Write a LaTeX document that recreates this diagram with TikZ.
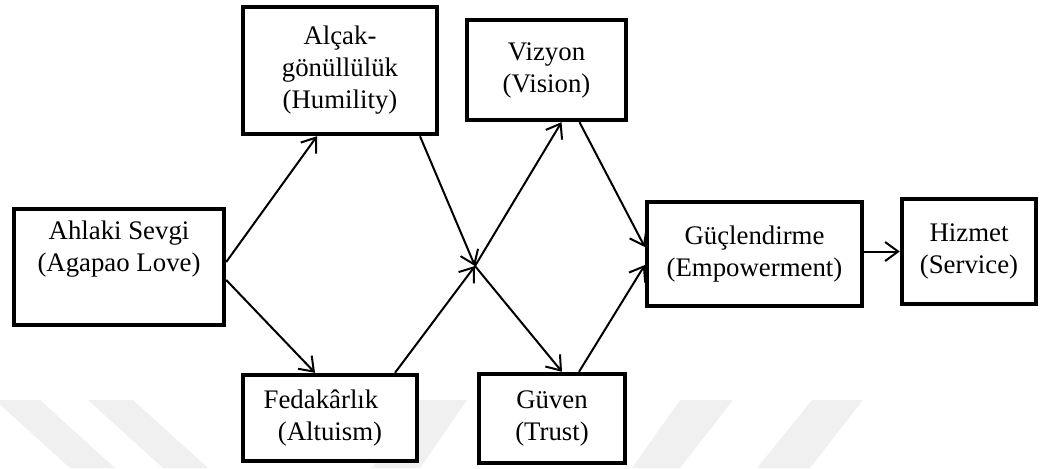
\documentclass[tikz,border=0pt]{standalone}
\usepackage{fontspec}
\setmainfont{Liberation Serif}
\usepackage{tikz}
\usetikzlibrary{arrows.meta}
\usetikzlibrary{calc}

\begin{document}
\begin{tikzpicture}[x=0.5pt,y=-0.5pt,
	box/.style={draw,line width=2.2pt,fill=white,align=center,inner sep=0pt,font=\fontsize{13.4}{16}\selectfont},
	link/.style={line width=1pt,-{Straight Barb[length=6.5pt,width=9.5pt,line width=1pt]}},
	band/.style={fill=black!6}]

	\useasboundingbox (0,0) rectangle (1044,468);

%	faint bands at the bottom
	\fill[band] (-5,400) -- (40,400) -- (115,468) -- (70,468) -- cycle;
	\fill[band] (88,400) -- (133,400) -- (208,468) -- (163,468) -- cycle;
	\fill[band] (420,400) -- (467,400) -- (420,468) -- (372,468) -- cycle;
	\fill[band] (680,400) -- (733,400) -- (680,468) -- (632,468) -- cycle;
	\fill[band] (812,400) -- (863,400) -- (810,468) -- (757,468) -- cycle;

	\node[box,minimum width=105pt,minimum height=58pt] (love) at (119,267) {Ahlaki Sevgi\\(Agapao Love)\\\strut};
	\node[box,minimum width=97pt,minimum height=63.5pt] (humil) at (340,70.5) {Alçak-\\gönüllülük\\(Humility)};
	\node[box,minimum width=87pt,minimum height=43pt] (altru) at (330,418) {Fedakârlık\hspace*{9pt}\\(Altuism)};
	\node[box,minimum width=79.5pt,minimum height=50pt] (vision) at (546.5,70) {Vizyon\\(Vision)};
	\node[box,minimum width=73pt,minimum height=44.5pt] (trust) at (552,418.5) {Güven\\(Trust)};
	\node[box,minimum width=107.5pt,minimum height=52pt] (empow) at (754.5,254) {Güçlendirme\\(Empowerment)};
	\node[box,minimum width=67pt,minimum height=52.5pt] (serv) at (969,251.5) {Hizmet\\(Service)};

	\coordinate (mid) at (475,266);

	\draw[link] ($(love.east)+(0,-5)$) -- ($(humil.south)+(-23,0)$);
	\draw[link] ($(love.east)+(0,13)$) -- ($(altru.north)+(-15,0)$);
	\draw[link] ($(humil.south)+(80,0)$) -- (mid);
	\draw[link] ($(altru.north)+(65,0)$) -- (mid);
	\draw[link] (mid) -- ($(vision.south)+(15,0)$);
	\draw[link] (mid) -- ($(trust.north)+(10,0)$);
	\draw[link] ($(vision.south)+(33,0)$) -- ($(empow.west)+(0,-7)$);
	\draw[link] ($(trust.north)+(27,0)$) -- ($(empow.west)+(0,11)$);
	\draw[link] (empow.east |- serv.west) -- (serv.west);

\end{tikzpicture}
\end{document}
